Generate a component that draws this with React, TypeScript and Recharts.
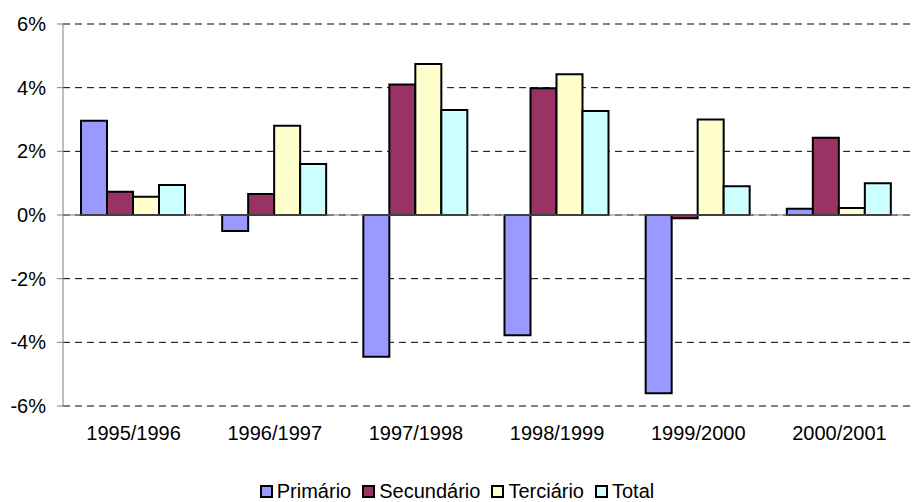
import { BarChart, Bar, XAxis, YAxis, CartesianGrid, ReferenceLine, Legend } from 'recharts';

const periods = ['1995/1996', '1996/1997', '1997/1998', '1998/1999', '1999/2000', '2000/2001'];
const primario = [2.96, -0.5, -4.45, -3.78, -5.6, 0.2];
const secundario = [0.73, 0.66, 4.1, 3.98, -0.1, 2.43];
const terciario = [0.57, 2.8, 4.74, 4.42, 3.0, 0.22];
const total = [0.94, 1.6, 3.3, 3.27, 0.9, 1.0];
const yTicks = [-6, -4, -2, 0, 2, 4, 6];

const series = [
  { key: 'primario', name: 'Primário', color: '#9999FF' },
  { key: 'secundario', name: 'Secundário', color: '#993366' },
  { key: 'terciario', name: 'Terciário', color: '#FFFFCC' },
  { key: 'total', name: 'Total', color: '#CCFFFF' },
];

const data = periods.map((p, i) => ({
  period: p,
  primario: primario[i],
  secundario: secundario[i],
  terciario: terciario[i],
  total: total[i],
}));

const font = '"Liberation Sans", Arial, sans-serif';

function LegendBox() {
  return (
    <div
      style={{
        display: 'flex',
        justifyContent: 'center',
        alignItems: 'center',
        height: 22,
        fontFamily: font,
        fontSize: 20,
        color: '#000',
      }}
    >
      {series.map((s, i) => (
        <span
          key={s.key}
          style={{ display: 'flex', alignItems: 'center', marginRight: i < series.length - 1 ? 11 : 0 }}
        >
          <span
            style={{
              display: 'inline-block',
              width: 9,
              height: 9,
              background: s.color,
              border: '2px solid #000',
              marginRight: 4,
            }}
          />
          {s.name}
        </span>
      ))}
    </div>
  );
}

export default function App() {
  return (
    <div style={{ position: 'absolute', left: 0, top: 0, background: '#fff' }}>
      <BarChart
        width={914}
        height={502}
        data={data}
        margin={{ top: 24, right: 4, bottom: 34, left: 0 }}
        barCategoryGap={18}
        barGap={0}
      >
        <CartesianGrid vertical={false} stroke="#000" strokeDasharray="7 5" />
        <XAxis
          dataKey="period"
          height={40}
          axisLine={false}
          tickLine={false}
          tickMargin={14}
          fontSize={20}
          tick={{ fill: '#000', fontSize: 20, fontFamily: font }}
        />
        <YAxis
          width={63}
          domain={[-6, 6]}
          ticks={yTicks}
          tickFormatter={(v) => `${v}%`}
          axisLine={{ stroke: '#808080' }}
          tickLine={{ stroke: '#808080' }}
          tickSize={6}
          tickMargin={11}
          fontSize={20}
          tick={{ fill: '#000', fontSize: 20, fontFamily: font }}
        />
        <ReferenceLine y={0} stroke="#808080" strokeWidth={1} />
        {series.map((s) => (
          <Bar
            key={s.key}
            dataKey={s.key}
            name={s.name}
            fill={s.color}
            stroke="#000"
            strokeWidth={2}
            isAnimationActive={false}
          />
        ))}
        <Legend
          verticalAlign="bottom"
          content={() => <LegendBox />}
          wrapperStyle={{ bottom: 0, left: 0, width: 914 }}
        />
      </BarChart>
    </div>
  );
}
